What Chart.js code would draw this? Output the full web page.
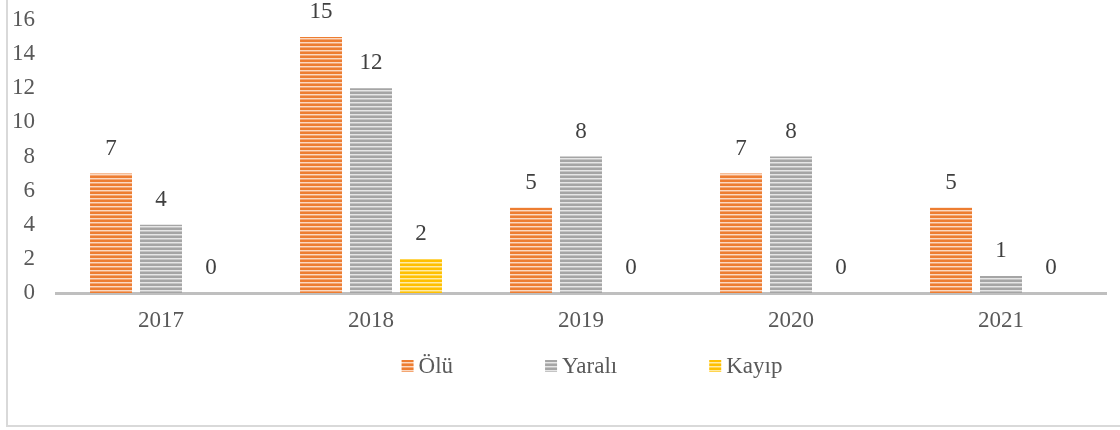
<!DOCTYPE html>
<html>
<head>
<meta charset="utf-8">
<script src="https://cdn.jsdelivr.net/npm/chart.js@4/dist/chart.umd.min.js"></script>
<style>
  html, body { margin: 0; padding: 0; background: #fff; overflow: hidden; width: 1120px; height: 430px; }
  #frame { position: absolute; left: 6px; top: -10px; width: 1300px; height: 437px; box-sizing: border-box;
           border-left: 2px solid #d9d9d9; border-bottom: 2px solid #d9d9d9; }
  #c { position: absolute; left: 0; top: 0; }
</style>
</head>
<body>
<div id="frame"></div>
<canvas id="c" width="1186" height="430"></canvas>
<script>
const categories = ['2017', '2018', '2019', '2020', '2021'];
const seriesNames = ['Ölü', 'Yaralı', 'Kayıp'];
const oluValues = [7, 15, 5, 7, 5];
const yaraliValues = [4, 12, 8, 8, 1];
const kayipValues = [0, 2, 0, 0, 0];
const yTicks = [0, 2, 4, 6, 8, 10, 12, 14, 16];

const FONT = "'Liberation Serif', 'Times New Roman', serif";
const FS = 23;

function stripe(solid, mid, light) {
  const p = document.createElement('canvas');
  p.width = 4; p.height = 4;
  const g = p.getContext('2d');
  g.fillStyle = solid; g.fillRect(0, 0, 4, 2);
  g.fillStyle = light; g.fillRect(0, 2, 4, 1);
  g.fillStyle = mid; g.fillRect(0, 3, 4, 1);
  return document.getElementById('c').getContext('2d').createPattern(p, 'repeat');
}

const orangeP = stripe('#ED7D31', '#F4A672', '#FBD9C2');
const grayP = stripe('#A5A5A5', '#C4C4C4', '#E6E6E6');
const yellowP = stripe('#FFC000', '#FFD54F', '#FFEBA6');

const valueLabels = {
  id: 'valueLabels',
  afterDatasetsDraw(chart) {
    const ctx = chart.ctx;
    ctx.save();
    ctx.font = FS + 'px ' + FONT;
    ctx.fillStyle = '#404040';
    ctx.textAlign = 'center';
    ctx.textBaseline = 'middle';
    chart.data.datasets.forEach((ds, i) => {
      chart.getDatasetMeta(i).data.forEach((el, j) => {
        ctx.fillText(String(ds.data[j]), el.x, el.y - 25);
      });
    });
    ctx.restore();
  }
};

// Legend drawn from the datasets (Excel-style spacing)
const bottomLegend = {
  id: 'bottomLegend',
  afterDraw(chart) {
    const ctx = chart.ctx;
    ctx.save();
    ctx.font = FS + 'px ' + FONT;
    ctx.textBaseline = 'middle';
    ctx.textAlign = 'left';
    const box = 12, gapText = 5, gapItem = 92;
    const items = chart.data.datasets.map(ds => ({ ds, w: box + gapText + ctx.measureText(ds.label).width }));
    const total = items.reduce((a, it) => a + it.w, 0) + gapItem * (items.length - 1);
    let x = chart.width / 2 - total / 2 - 1;
    const cy = 366;
    items.forEach(it => {
      ctx.fillStyle = it.ds.backgroundColor;
      ctx.fillRect(x, cy - box / 2, box, box);
      ctx.fillStyle = '#595959';
      ctx.fillText(it.ds.label, x + box + gapText, cy + 1);
      x += it.w + gapItem;
    });
    ctx.restore();
  }
};

new Chart(document.getElementById('c'), {
  type: 'bar',
  data: {
    labels: categories,
    datasets: [
      { label: seriesNames[0], data: oluValues, backgroundColor: orangeP },
      { label: seriesNames[1], data: yaraliValues, backgroundColor: grayP },
      { label: seriesNames[2], data: kayipValues, backgroundColor: yellowP }
    ]
  },
  options: {
    responsive: false,
    animation: false,
    events: [],
    layout: { padding: { top: 20, left: 0, right: 80, bottom: 85 } },
    datasets: { bar: { categoryPercentage: 0.714, barPercentage: 0.84, borderWidth: 0 } },
    scales: {
      x: {
        grid: { display: false, drawTicks: false },
        border: { display: true, color: '#BFBFBF', width: 3 },
        ticks: { color: '#595959', font: { family: FONT, size: FS }, padding: 14 },
        afterFit(s) { s.height = 52; }
      },
      y: {
        min: 0, max: 16,
        grid: { display: false, drawTicks: false },
        border: { display: false },
        afterBuildTicks(s) { s.ticks = yTicks.map(v => ({ value: v })); },
        ticks: { color: '#595959', font: { family: FONT, size: FS }, padding: 21, autoSkip: false },
        afterFit(s) { s.width = 56; s.paddingTop = 0; s.paddingBottom = 0; }
      }
    },
    plugins: {
      legend: { display: false },
      tooltip: { enabled: false }
    }
  },
  plugins: [valueLabels, bottomLegend]
});
</script>
</body>
</html>
